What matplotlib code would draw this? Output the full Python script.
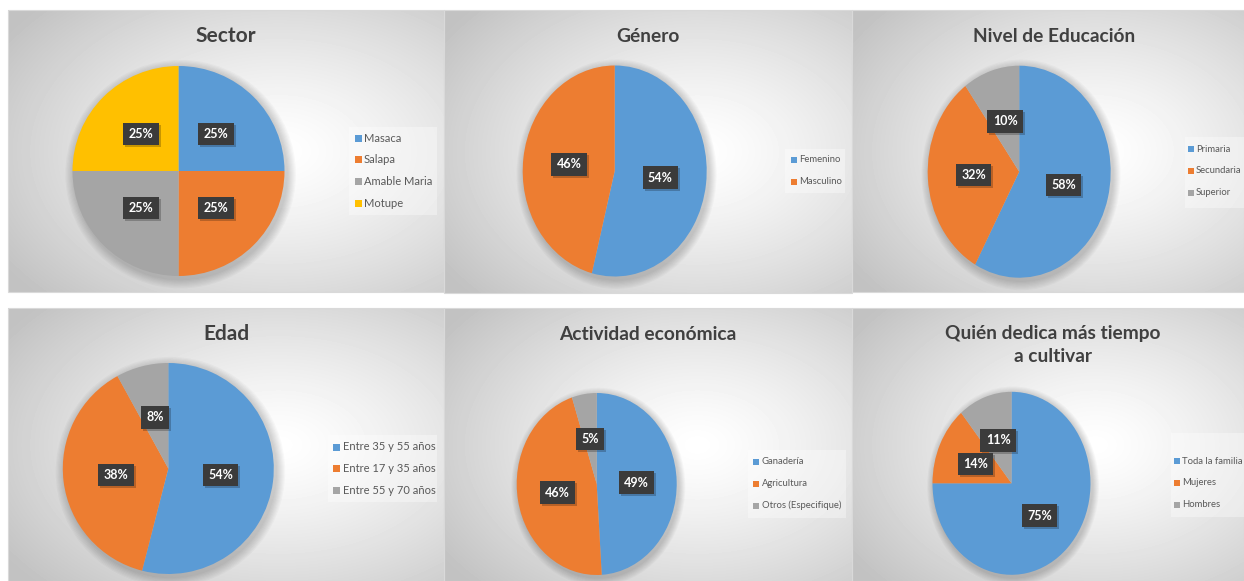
import numpy as np
import matplotlib.pyplot as plt
from matplotlib.patches import Rectangle, Ellipse
from matplotlib.transforms import ScaledTranslation

plt.rcParams['font.family'] = ['Lato', 'DejaVu Sans']

W, H = 1244, 581

blue, orange, gray, yellow = '#5B9BD5', '#ED7D31', '#A5A5A5', '#FFC000'

sector_labels = ["Masaca", "Salapa", "Amable Maria", "Motupe"]
sector_values = [25, 25, 25, 25]

genero_labels = ["Femenino", "Masculino"]
genero_values = [54, 46]

educacion_labels = ["Primaria", "Secundaria", "Superior"]
educacion_values = [58, 32, 10]

edad_labels = ["Entre 35 y 55 años", "Entre 17 y 35 años", "Entre 55 y 70 años"]
edad_values = [54, 38, 8]

actividad_labels = ["Ganadería", "Agricultura", "Otros (Especifique)"]
actividad_values = [49, 46, 5]

tiempo_labels = ["Toda la familia", "Mujeres", "Hombres"]
tiempo_values = [75, 14, 11]

titles = ["Sector", "Género", "Nivel de Educación", "Edad",
          "Actividad económica", "Quién dedica más tiempo\na cultivar"]
all_labels = [sector_labels, genero_labels, educacion_labels,
              edad_labels, actividad_labels, tiempo_labels]
all_values = [sector_values, genero_values, educacion_values,
              edad_values, actividad_values, tiempo_values]

# layout, in pixels from the top-left corner
panels = [(8, 10, 444, 292), (444, 10, 852, 293), (852, 10, 1244, 292),
          (8, 308, 444, 581), (444, 308, 852, 581), (852, 308, 1244, 581)]
pies = [(178.5, 171, 106, 105), (614.7, 171, 92, 105.5), (1019.2, 171.7, 91.5, 106),
        (168.3, 468.5, 105.5, 105.5), (596.7, 484, 80, 91), (1011.5, 483.3, 79, 91.5)]
title_xy = [(226, 36), (648, 36), (1054, 36), (226, 334), (648, 335), (1053, 345)]
title_size = [15, 13.8, 13.8, 15, 13.8, 13.8]
# legend box (x0, y0, x1, y1), first entry y, marker x, text x, font size
legends = [((349, 127, 437, 215), 138, 355, 364, 8.0),
           ((785, 149, 845, 193), 160, 791, 799, 6.8),
           ((1185, 137, 1244, 208), 149, 1188, 1196, 6.8),
           ((328, 435, 437, 502), 447, 333, 343, 8.0),
           ((748, 450, 846, 518), 462, 753, 762, 6.8),
           ((1171, 433, 1244, 517), 461, 1174, 1182, 6.8)]
step = 21.8


def px_axes(fig, x0, y0, x1, y1, **kw):
    return fig.add_axes([x0 / W, 1 - y1 / H, (x1 - x0) / W, (y1 - y0) / H], **kw)


def gradient(w, h, cx=0.62, cy=0.5):
    yy, xx = np.mgrid[0:h, 0:w]
    d = np.sqrt(((xx / w - cx) / 0.75) ** 2 + ((yy / h - cy) / 0.75) ** 2)
    return 1.0 - 0.24 * np.clip(d, 0, 1) ** 1.3


fig = plt.figure(figsize=(W / 100, H / 100), dpi=100)

back = px_axes(fig, 0, 0, W, H, zorder=0)
back.axis('off')
for (x0, y0, x1, y1) in panels:
    img = gradient(int(x1 - x0), int(y1 - y0))
    back.imshow(img, cmap='gray', vmin=0, vmax=1, extent=(x0, x1, y1, y0),
                origin='upper', aspect='auto', interpolation='bilinear')
    back.add_patch(Rectangle((x0, y0), x1 - x0, y1 - y0, fill=False,
                             ec='#d9d9d9', lw=0.8))
back.set_xlim(0, W)
back.set_ylim(H, 0)

colors = [blue, orange, gray, yellow]
for k, (cx, cy, rx, ry) in enumerate(pies):
    ax = px_axes(fig, cx - rx, cy - ry, cx + rx, cy + ry, zorder=1)
    # soft drop shadow under the pie
    for i in range(8):
        r = 1.0 + 0.011 * (i + 1)
        ax.add_patch(Ellipse((0.02, -0.03), 2 * r, 2 * r, fc='black',
                             alpha=0.025, lw=0, clip_on=False, zorder=0))
    wedges, _, autotexts = ax.pie(all_values[k], colors=colors[:len(all_values[k])],
                                  startangle=90, counterclock=False, radius=1,
                                  autopct='%1.0f%%', pctdistance=0.5,
                                  wedgeprops=dict(linewidth=0, zorder=1))
    ax.set_aspect('auto')
    ax.set_xlim(-1, 1)
    ax.set_ylim(-1, 1)
    for t in autotexts:
        t.set_color('white')
        t.set_fontweight('bold')
        t.set_fontsize(9)
        t.set_zorder(4)
        t.set_bbox(dict(boxstyle='square,pad=0.42', fc='#3b3b3b', ec='none'))
        ax.text(*t.get_position(), t.get_text(), ha='center', va='center',
                fontsize=9, fontweight='bold', color='none', zorder=3,
                transform=ax.transData + ScaledTranslation(2 / 100, -2 / 100, fig.dpi_scale_trans),
                bbox=dict(boxstyle='square,pad=0.42', fc='black', alpha=0.22, ec='none'))

top = px_axes(fig, 0, 0, W, H, zorder=2)
top.patch.set_alpha(0)
top.set_xlim(0, W)
top.set_ylim(H, 0)
top.axis('off')

for k, (tx, ty) in enumerate(title_xy):
    top.text(tx, ty, titles[k], ha='center', va='center', fontsize=title_size[k],
             fontweight='bold', color='#404040', linespacing=1.45)

for k, ((x0, y0, x1, y1), ey, mx, tx, fs) in enumerate(legends):
    top.add_patch(Rectangle((x0, y0), x1 - x0, y1 - y0, fc='white', alpha=0.35, lw=0))
    ms = 7 if fs > 7.5 else 6
    for i, lab in enumerate(all_labels[k]):
        y = ey + i * step
        top.add_patch(Rectangle((mx, y - ms / 2), ms, ms, fc=colors[i], lw=0))
        top.text(tx, y, lab, ha='left', va='center', fontsize=fs, color='#595959')

fig.savefig('out.png', dpi=100)
